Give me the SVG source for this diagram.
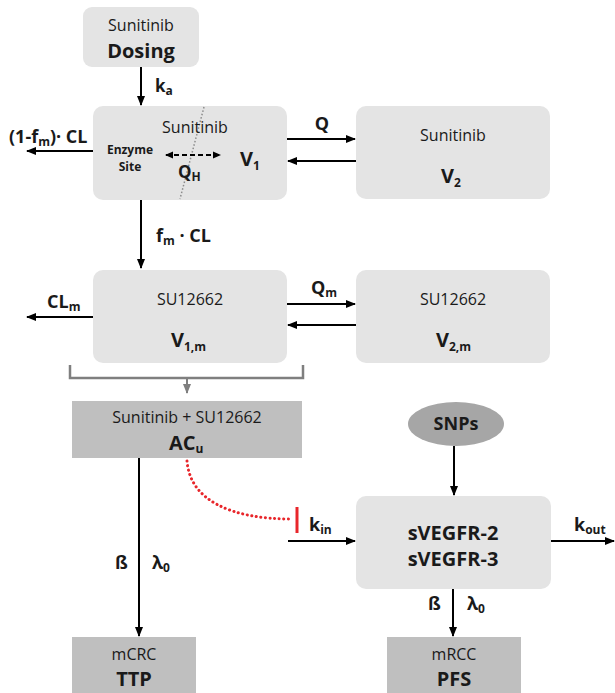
<svg xmlns="http://www.w3.org/2000/svg" width="615" height="693" viewBox="0 0 615 693">
<defs>
<marker id="ah" markerWidth="10" markerHeight="10" refX="9" refY="5" orient="auto" markerUnits="userSpaceOnUse">
<path d="M0,1 L10,5 L0,9 Z" fill="#000"/>
</marker>
<marker id="ahs" markerWidth="8" markerHeight="8" refX="7" refY="4" orient="auto-start-reverse" markerUnits="userSpaceOnUse">
<path d="M0,0.5 L8,4 L0,7.5 Z" fill="#000"/>
</marker>
<marker id="ahg" markerWidth="10" markerHeight="10" refX="9" refY="5" orient="auto" markerUnits="userSpaceOnUse">
<path d="M0,1 L10,5 L0,9 Z" fill="#7f7f7f"/>
</marker>
<style>
text{font-family:"Open Sans","Liberation Sans",sans-serif;fill:#1a1a1a}
.light{fill:#e4e4e4}
.dark{fill:#bfbfbf}
.r{font-size:16px}
.b{font-size:20px;font-weight:bold}
.lb{font-size:17px;font-weight:bold}
.s{font-size:12px}
.c{text-anchor:middle}
.ln{stroke:#000;stroke-width:2;fill:none}
</style>
</defs>

<g id="dosing">
<rect class="light" x="83" y="7" width="116" height="60" rx="9"/>
<text class="r c" x="141" y="31">Sunitinib</text>
<text class="b c" x="141" y="58">Dosing</text>
</g>

<g id="v1">
<rect class="light" x="93" y="106" width="194" height="94" rx="10"/>
<line x1="204" y1="107" x2="180" y2="199" stroke="#8c8c8c" stroke-width="1.5" stroke-dasharray="1.5 2"/>
<text class="r c" x="195" y="133">Sunitinib</text>
<text class="c" x="130" y="154" style="font-size:12px;font-weight:bold">Enzyme</text>
<text class="c" x="130" y="171" style="font-size:12px;font-weight:bold">Site</text>
<line x1="166" y1="155" x2="220" y2="155" stroke="#000" stroke-width="2" stroke-dasharray="5 3" marker-start="url(#ahs)" marker-end="url(#ahs)"/>
<text class="lb" x="178" y="178">Q<tspan class="s" dy="3">H</tspan></text>
<text class="b" x="240" y="166">V<tspan class="s" dy="4" style="font-weight:bold">1</tspan></text>
</g>

<g id="v2">
<rect class="light" x="356" y="106" width="194" height="93" rx="10"/>
<text class="r c" x="453" y="141">Sunitinib</text>
<text class="b" x="441" y="183">V<tspan class="s" dy="4" style="font-weight:bold">2</tspan></text>
</g>

<g id="v1m">
<rect class="light" x="93" y="270" width="194" height="93" rx="10"/>
<text class="r c" x="190" y="305">SU12662</text>
<text class="b" x="171" y="347">V<tspan class="s" dy="4" style="font-weight:bold">1,m</tspan></text>
</g>

<g id="v2m">
<rect class="light" x="356" y="270" width="194" height="93" rx="10"/>
<text class="r c" x="453" y="305">SU12662</text>
<text class="b" x="436" y="347">V<tspan class="s" dy="4" style="font-weight:bold">2,m</tspan></text>
</g>

<g id="acu">
<rect class="dark" x="72" y="401" width="230" height="57"/>
<text class="r c" x="187" y="423">Sunitinib + SU12662</text>
<text class="b" x="169" y="450">AC<tspan class="s" dy="3" style="font-weight:bold">u</tspan></text>
</g>

<g id="snps">
<ellipse cx="456" cy="424" rx="48" ry="22" fill="#a6a6a6"/>
<text class="lb c" x="456" y="430" style="font-size:18px">SNPs</text>
</g>

<g id="svegfr">
<rect class="light" x="356" y="496" width="195" height="93" rx="10"/>
<text class="b c" x="453" y="540">sVEGFR-2</text>
<text class="b c" x="453" y="566">sVEGFR-3</text>
</g>

<g id="ttp">
<rect class="dark" x="72" y="637" width="124" height="56"/>
<text class="r c" x="134" y="660">mCRC</text>
<text class="b c" x="134" y="686">TTP</text>
</g>

<g id="pfs">
<rect class="dark" x="387" y="637" width="134" height="56"/>
<text class="r c" x="454" y="660">mRCC</text>
<text class="b c" x="454" y="686">PFS</text>
</g>

<g id="connectors">
<line class="ln" x1="141" y1="67" x2="141" y2="105" marker-end="url(#ah)"/>
<text class="lb" x="155" y="92">k<tspan class="s" dy="3">a</tspan></text>

<line class="ln" x1="93" y1="151" x2="27" y2="151" marker-end="url(#ah)"/>
<text class="lb" x="9" y="143" style="font-size:18px">(1-f<tspan class="s" dy="3">m</tspan><tspan dy="-3">)· CL</tspan></text>

<line class="ln" x1="287" y1="139" x2="355" y2="139" marker-end="url(#ah)"/>
<line class="ln" x1="356" y1="161" x2="288" y2="161" marker-end="url(#ah)"/>
<text class="lb c" x="322" y="130" style="font-size:18px">Q</text>

<line class="ln" x1="141" y1="200" x2="141" y2="268" marker-end="url(#ah)"/>
<text class="lb" x="156" y="242" style="font-size:18px">f<tspan class="s" dy="3">m</tspan><tspan dy="-3"> · CL</tspan></text>

<line class="ln" x1="93" y1="317" x2="27" y2="317" marker-end="url(#ah)"/>
<text class="lb" x="47" y="308" style="font-size:18px">CL<tspan class="s" dy="3">m</tspan></text>

<line class="ln" x1="287" y1="304" x2="355" y2="304" marker-end="url(#ah)"/>
<line class="ln" x1="356" y1="325" x2="288" y2="325" marker-end="url(#ah)"/>
<text class="lb" x="311" y="294" style="font-size:18px">Q<tspan class="s" dy="3">m</tspan></text>

<path d="M70,365 V378 H303 V365" stroke="#7f7f7f" stroke-width="2.5" fill="none"/>
<line x1="187" y1="378" x2="187" y2="393" stroke="#7f7f7f" stroke-width="2" marker-end="url(#ahg)"/>

<line class="ln" x1="139" y1="458" x2="139" y2="636" marker-end="url(#ah)"/>
<text class="lb" x="115" y="569" style="font-size:18px">ß</text>
<text class="lb" x="152" y="569" style="font-size:18px">λ<tspan class="s" dy="3">0</tspan></text>

<path d="M187,461 C190,500 230,519 292,519" stroke="#e8262b" stroke-width="3" fill="none" stroke-dasharray="0.1 4.5" stroke-linecap="round"/>
<line x1="297" y1="507" x2="297" y2="533" stroke="#e8262b" stroke-width="3"/>

<line class="ln" x1="288" y1="541" x2="355" y2="541" marker-end="url(#ah)"/>
<text class="lb" x="309" y="531" style="font-size:18px">k<tspan class="s" dy="3">in</tspan></text>

<line class="ln" x1="454" y1="446" x2="454" y2="495" marker-end="url(#ah)"/>

<line class="ln" x1="551" y1="541" x2="614" y2="541" marker-end="url(#ah)"/>
<text class="lb" x="574" y="531" style="font-size:18px">k<tspan class="s" dy="3">out</tspan></text>

<line class="ln" x1="453" y1="589" x2="453" y2="636" marker-end="url(#ah)"/>
<text class="lb" x="428" y="610" style="font-size:18px">ß</text>
<text class="lb" x="467" y="610" style="font-size:18px">λ<tspan class="s" dy="3">0</tspan></text>
</g>
</svg>
